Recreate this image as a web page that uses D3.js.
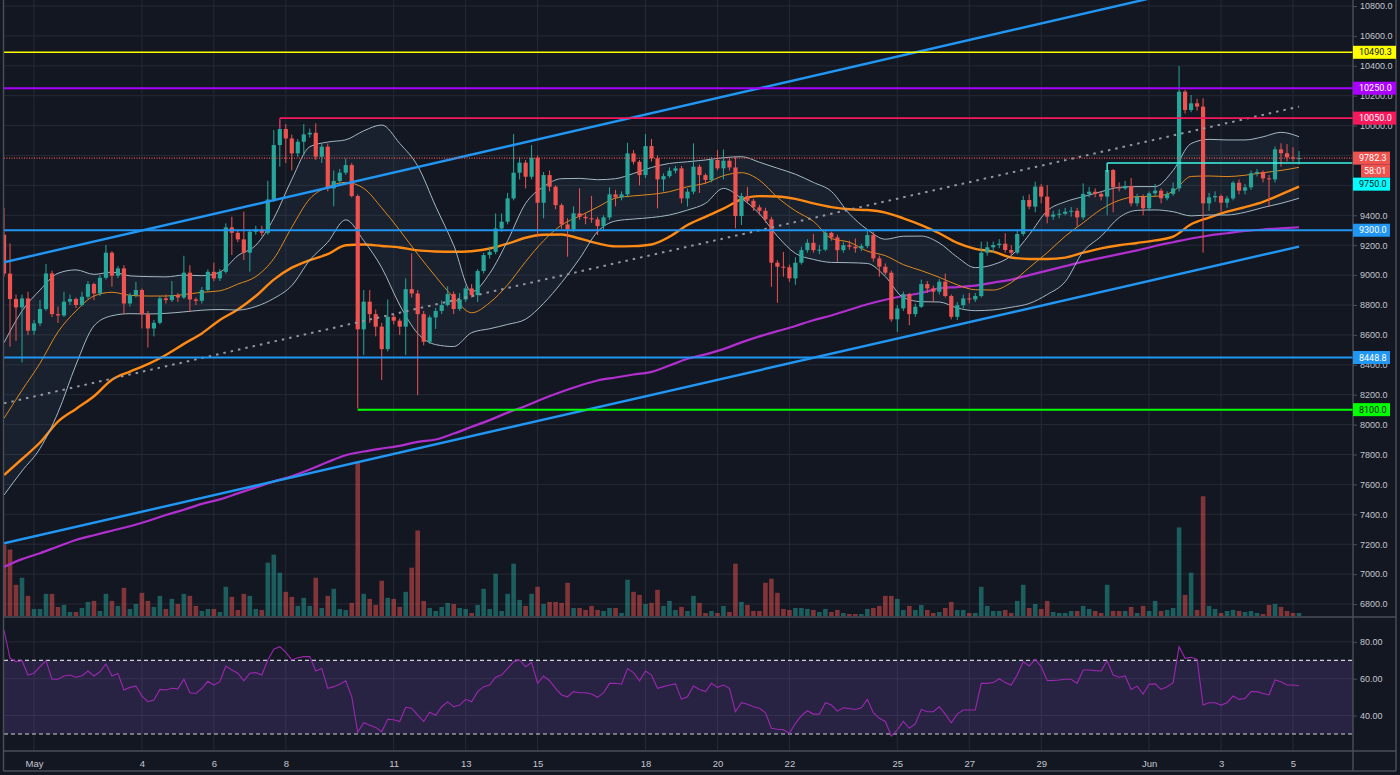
<!DOCTYPE html>
<html>
<head>
<meta charset="utf-8">
<script src="https://cdn.jsdelivr.net/npm/d3@7"></script>
<style>
  html, body { margin: 0; padding: 0; background: #131722; }
  svg { display: block; font-family: Roboto, "Noto Sans", sans-serif; }
</style>
</head>
<body>
<svg id="chart" width="1400" height="775"></svg>
<script>
// BTC/USD 4h candles, first one opens 2020-04-30 04:00 UTC
const firstCandle = Date.UTC(2020, 3, 30, 4);
const firstOpen = 9270;

const closes = [
  9010, 8840, 8784, 8844, 8628,
  8677, 8773, 9011, 8739, 8730, 8822,
  8840, 8800, 8855, 8940, 8877, 8982,
  9150, 8996, 9045, 8810, 8866, 8900,
  8739, 8643, 8681, 8844, 8833, 8866,
  8850, 9016, 8837, 8828, 8900, 9022,
  8978, 9022, 9319, 9283, 9239, 9150,
  9290, 9306, 9283, 9506, 9870, 9977,
  9914, 9814, 9892, 9941, 9952, 9792,
  9859, 9580, 9629, 9685, 9736, 9529,
  8637, 8822, 8739, 8655, 8505, 8721,
  8695, 8655, 8906, 8877, 8739, 8554,
  8717, 8760, 8800, 8873, 8773, 8837,
  8911, 8866, 9027, 9134, 9156, 9312,
  9357, 9513, 9685, 9752, 9658, 9785,
  9484, 9669, 9591, 9468, 9339, 9306,
  9413, 9390, 9380, 9373, 9328, 9386,
  9540, 9520, 9540, 9814, 9758, 9669,
  9863, 9781, 9640, 9662, 9698, 9714,
  9513, 9558, 9725, 9669, 9636, 9770,
  9714, 9765, 9720, 9395, 9529, 9497,
  9453, 9430, 9373, 9083, 9056, 9052,
  8978, 9083, 9167, 9216, 9167, 9170,
  9283, 9252, 9167, 9200, 9190, 9179,
  9194, 9268, 9112, 9056, 9016, 8704,
  8777, 8873, 8739, 8788, 8940, 8911,
  8889, 8956, 8860, 8721, 8799, 8844,
  8837, 8860, 9150, 9186, 9201, 9210,
  9168, 9150, 9275, 9502, 9458, 9592,
  9525, 9391, 9405, 9410, 9424, 9430,
  9386, 9543, 9558, 9543, 9525, 9703,
  9587, 9580, 9596, 9480, 9525, 9447,
  9547, 9565, 9514, 9543, 9580, 10227,
  10104, 10149, 10127, 9480, 9520, 9529,
  9484, 9513, 9618, 9565, 9587, 9681,
  9690, 9647, 9640, 9841, 9815, 9788,
  9780, 9782.3
];

const highs = [
  9450, 9212, 8870, 8870, 8889,
  8700, 8833, 9074, 9030, 8790, 8888,
  8870, 8850, 8889, 8960, 8950, 9000,
  9201, 9160, 9060, 9066, 8880, 8955,
  8910, 8760, 8700, 8860, 8870, 8960,
  8880, 9129, 9066, 8850, 8920, 9038,
  9083, 9040, 9346, 9390, 9300, 9424,
  9300, 9330, 9330, 9631, 9970, 10041,
  10010, 9940, 9910, 10010, 9980, 10015,
  9880, 9880, 9700, 9710, 9780, 9750,
  9540, 8900, 8900, 8770, 8680, 8837,
  8740, 8710, 8978, 9145, 8900, 8760,
  8730, 8780, 8830, 8925, 8890, 8880,
  8930, 8940, 9040, 9150, 9190, 9413,
  9413, 9550, 9943, 9790, 9770, 9870,
  9800, 9690, 9700, 9600, 9480, 9380,
  9460, 9580, 9410, 9530, 9390, 9400,
  9587, 9570, 9560, 9885, 9836, 9770,
  9943, 9910, 9800, 9680, 9720, 9730,
  9730, 9580, 9881, 9740, 9680, 9790,
  9836, 9840, 9780, 9790, 9550, 9590,
  9510, 9470, 9450, 9390, 9100, 9155,
  9070, 9120, 9190, 9240, 9275, 9200,
  9300, 9290, 9270, 9220, 9230, 9245,
  9210, 9301, 9290, 9130, 9078, 9030,
  8800, 8890, 8880, 8810, 8970, 8960,
  8930, 8975, 9011, 8870, 8820, 8870,
  8880, 8880, 9224, 9224, 9224, 9240,
  9280, 9200, 9300, 9530, 9540, 9625,
  9610, 9603, 9430, 9440, 9450, 9455,
  9450, 9614, 9590, 9580, 9560, 9750,
  9710, 9620, 9630, 9650, 9545, 9540,
  9560, 9610, 9580, 9560, 9620, 10399,
  10240, 10205, 10180, 10183, 9550, 9560,
  9540, 9530, 9630, 9640, 9610, 9700,
  9710, 9700, 9670, 9860, 9882, 9876,
  9855, 9830
];

const lows = [
  8990, 8521, 8560, 8416, 8599,
  8600, 8660, 8760, 8720, 8680, 8720,
  8800, 8780, 8790, 8840, 8832, 8860,
  8970, 8922, 8980, 8739, 8790, 8850,
  8643, 8516, 8590, 8670, 8810, 8820,
  8820, 8840, 8755, 8800, 8810, 8890,
  8960, 8960, 9010, 9134, 9220, 9100,
  9023, 9270, 9260, 9270, 9490, 9725,
  9750, 9700, 9790, 9800, 9920, 9770,
  9750, 9560, 9460, 9600, 9670, 9520,
  8108, 8465, 8680, 8590, 8298, 8490,
  8670, 8600, 8465, 8850, 8197, 8530,
  8540, 8640, 8740, 8790, 8740, 8760,
  8820, 8850, 8820, 9010, 9110, 9140,
  9290, 9340, 9500, 9640, 9580, 9640,
  9257, 9380, 9560, 9440, 9310, 9123,
  9290, 9370, 9340, 9350, 9268, 9300,
  9370, 9460, 9500, 9520, 9740, 9600,
  9650, 9760, 9446, 9560, 9650, 9680,
  9480, 9458, 9540, 9550, 9610, 9620,
  9700, 9640, 9700, 9313, 9335, 9480,
  9430, 9400, 9350, 8922, 8815, 8990,
  8955, 8935, 9070, 9150, 9150, 9140,
  9160, 9230, 9090, 9150, 9170, 9150,
  9160, 9180, 9090, 8990, 9000, 8688,
  8620, 8760, 8665, 8720, 8780, 8880,
  8820, 8870, 8850, 8704, 8700, 8780,
  8810, 8820, 8850, 9130, 9150, 9180,
  9150, 9120, 9140, 9260, 9440, 9420,
  9480, 9346, 9370, 9380, 9400, 9390,
  9325, 9370, 9520, 9520, 9500, 9400,
  9420, 9560, 9570, 9460, 9460, 9400,
  9430, 9530, 9480, 9500, 9530, 9560,
  10080, 10090, 10100, 9150, 9430, 9490,
  9424, 9450, 9500, 9540, 9540, 9570,
  9660, 9620, 9458, 9620, 9725, 9760,
  9760, 9740
];

const volumes = [
  71, 66, 31, 38, 20,
  7, 7, 22, 22, 9, 11,
  4, 4, 8, 14, 15, 5,
  22, 15, 10, 28, 7, 12,
  23, 15, 9, 20, 7, 17,
  12, 22, 20, 10, 5, 7,
  7, 4, 29, 19, 6, 22,
  20, 7, 6, 53, 61, 43,
  24, 19, 10, 18, 10, 38,
  8, 20, 27, 7, 6, 13,
  152, 22, 17, 11, 35, 18,
  17, 9, 24, 48, 85, 15,
  8, 5, 9, 13, 12, 8,
  7, 3, 11, 27, 7, 42,
  5, 22, 52, 16, 10, 22,
  29, 12, 14, 14, 13, 33,
  8, 8, 6, 10, 6, 5,
  8, 8, 3, 36, 24, 21,
  12, 13, 26, 10, 15, 6,
  9, 5, 20, 13, 3, 5,
  3, 10, 4, 52, 14, 11,
  5, 5, 33, 37, 23, 7,
  6, 8, 8, 7, 6, 4,
  7, 4, 6, 3, 2, 2,
  2, 7, 8, 10, 20, 20,
  17, 6, 10, 6, 11, 6,
  3, 4, 8, 14, 6, 6,
  3, 3, 29, 10, 5, 5,
  6, 3, 15, 31, 8, 12,
  7, 15, 4, 3, 3, 5,
  5, 10, 7, 5, 3, 31,
  5, 5, 5, 9, 3, 10,
  5, 15, 5, 6, 8, 88,
  21, 43, 6, 119, 10, 7,
  3, 5, 6, 5, 4, 5,
  3, 2, 11, 12, 9, 5,
  3, 3
];

const rsi = [
  86.4, 71.1, 69.2, 69.8, 62,
  63, 66.5, 69.8, 59.7, 59.7, 61.5,
  62, 60.8, 61.6, 64.2, 61.5, 63.8,
  68, 61.5, 62.9, 53.9, 55.3, 56,
  50.6, 47.5, 48.4, 54.2, 53.9, 54.8,
  54.5, 59.7, 52.4, 52, 54.8, 58.6,
  56.6, 58.4, 66.9, 64.7, 63, 58.9,
  63, 63.3, 62, 70.2, 76, 77.4,
  74.3, 70.2, 71.4, 72, 72, 64.2,
  65.6, 54.8, 55.7, 57, 58.9, 50.2,
  30.9, 36.1, 34.8, 33.6, 31.2, 38,
  37.7, 36.8, 44.5, 44, 40.2, 36.8,
  41.8, 40.2, 44.8, 47.4, 44.8, 45.7,
  48.8, 47.5, 53, 55.7, 56.6, 60.8,
  62, 65.6, 69.2, 70.2, 66.5, 68.8,
  57.5, 61.5, 58.9, 54.8, 51.2, 50.2,
  53, 52.4, 52.4, 51.7, 49.9, 52.4,
  57.5, 57.5, 57, 65.5, 63.3, 58.9,
  64.2, 62, 54.8, 55.7, 56.6, 57.2,
  48.8, 50.2, 56.1, 54.2, 53, 57.5,
  55.3, 56.6, 54.8, 42.1, 47, 46.1,
  44.8, 44, 41.6, 33.1, 32.6, 32.3,
  30.4, 35.8, 39.9, 42.6, 40.8, 40.8,
  47, 45.7, 42.4, 44.2, 43.8, 43.3,
  44.2, 48.8, 41.6, 38.5, 36.8, 28.9,
  32.3, 36.8, 33.1, 35.5, 43.3, 42.1,
  42.1, 44.8, 40.8, 36.1, 40.8, 43,
  43, 43, 57.5, 57.5, 57.9, 60,
  57.9, 56.6, 62, 69.2, 66.9, 70.5,
  66.5, 59, 59, 59.3, 59.7, 59.7,
  57.5, 64.7, 64.7, 64.4, 64.2, 69.8,
  62, 60.8, 61.5, 54.2, 56, 51.7,
  57, 57.2, 54.2, 55.7, 57.9, 77.4,
  71.1, 71.6, 70.5, 45.7, 47, 47,
  45.7, 47, 50.6, 48.8, 49.3, 53,
  53, 52, 51.2, 59.3, 58.4, 56.6,
  56.6, 56.2
];

// indicator lines, read every 3rd candle
const bbUpper = [
  8548, 8760, 8900, 9012, 9035, 9005, 9020, 8995, 8990, 8988,
  9000, 8996, 9020, 9130, 9200, 9380, 9640, 9859, 9890, 9905,
  9965, 10004, 9881, 9730, 9460, 9200, 8889, 9011, 9230, 9480,
  9591, 9645, 9647, 9638, 9645, 9680, 9720, 9747, 9758, 9770,
  9785, 9792, 9755, 9715, 9675, 9620, 9560, 9410, 9305, 9240,
  9260, 9261, 9215, 9120, 9050, 9070, 9130, 9270, 9430, 9490,
  9525, 9558, 9587, 9592, 9592, 9700, 9880, 9908, 9904, 9904,
  9925, 9955, 9926
];
const bbBasis = [
  8042, 8230, 8410, 8620, 8760, 8860, 8885, 8865, 8860, 8860,
  8870, 8885, 8895, 8940, 8990, 9110, 9320, 9510, 9590, 9620,
  9580, 9450, 9300, 9140, 8990, 8850, 8748, 8815, 8935, 9090,
  9230, 9335, 9395, 9455, 9515, 9530, 9540, 9558, 9591, 9615,
  9665, 9685, 9635, 9520, 9430, 9360, 9245, 9220, 9160, 9130,
  9070, 9030, 8985, 8935, 8902, 8900, 8950, 9050, 9150, 9260,
  9350, 9440, 9500, 9525, 9527, 9560, 9660, 9663, 9659, 9668,
  9685, 9700, 9721
];
const bbLower = [
  7529, 7690, 7840, 8080, 8400, 8660, 8728, 8742, 8740, 8744,
  8754, 8765, 8770, 8766, 8790, 8844, 8930, 9100, 9220, 9370,
  9230, 9050, 8800, 8610, 8535, 8522, 8615, 8641, 8670, 8705,
  8811, 8950, 9110, 9290, 9362, 9375, 9385, 9402, 9435, 9480,
  9580, 9513, 9410, 9260, 9145, 9105, 9085, 9083, 9078, 8990,
  8850, 8822, 8820, 8780, 8762, 8767, 8785, 8810, 8870, 8956,
  9157, 9260, 9385, 9433, 9436, 9424, 9396, 9402, 9402, 9420,
  9452, 9480, 9514
];
const maMid = [
  7663, 7770, 7880, 8020, 8105, 8190, 8300, 8355, 8405, 8466,
  8540, 8610, 8700, 8770, 8860, 8970, 9050, 9100, 9140, 9200,
  9205, 9195, 9185, 9165, 9158, 9156, 9160, 9178, 9210, 9250,
  9270, 9272, 9245, 9212, 9192, 9194, 9205, 9257, 9335, 9390,
  9445, 9506, 9528, 9526, 9510, 9480, 9455, 9440, 9435, 9418,
  9380, 9335, 9280, 9215, 9175, 9157, 9118, 9108, 9108, 9117,
  9150, 9179, 9200, 9215, 9232, 9257, 9340, 9385, 9424, 9455,
  9490, 9540, 9592
];
const maLong = [
  7048, 7100, 7140, 7185, 7228, 7260, 7290, 7320, 7355, 7395,
  7430, 7470, 7500, 7540, 7580, 7620, 7655, 7700, 7750, 7795,
  7820, 7840, 7858, 7885, 7900, 7940, 7985, 8030, 8080, 8125,
  8175, 8220, 8260, 8295, 8315, 8335, 8353, 8395, 8440, 8470,
  8505, 8550, 8590, 8625, 8660, 8698, 8730, 8768, 8805, 8835,
  8860, 8880, 8912, 8920, 8930, 8950, 8970, 9000, 9030, 9060,
  9090, 9115, 9140, 9165, 9195, 9220, 9245, 9265, 9280, 9295,
  9305, 9312, 9320
];

// horizontal levels; start = candle index where the drawing begins (-1: whole chart)
const levelPrices = [10490.3, 10250, 10050, 9750, 9300, 8448.8, 8100];
const levelStarts = [-1, -1, 46, 184, -1, -1, 59];
const lastPrice = 9782.3;
const countdown = '58:01';

// trend lines: [startCandle, startPrice, endCandle, endPrice]
const channelTop = [0, 9086, 193, 10868];
const channelMid = [0, 8142, 216, 10127];
const channelBottom = [0, 7206, 216, 9191];

const dateTicks = [
  [2020, 4, 1], [2020, 4, 4], [2020, 4, 6], [2020, 4, 8], [2020, 4, 11], [2020, 4, 13],
  [2020, 4, 15], [2020, 4, 18], [2020, 4, 20], [2020, 4, 22], [2020, 4, 25], [2020, 4, 27],
  [2020, 4, 29], [2020, 5, 1], [2020, 5, 3], [2020, 5, 5]
];
const dateLabels = ['May', '4', '6', '8', '11', '13', '15', '18', '20', '22', '25', '27', '29', 'Jun', '3', '5'];
const rsiTicks = [80, 60, 40];

const HOUR = 3600 * 1000;
const candleTime = i => new Date(firstCandle + i * 4 * HOUR);

const candles = closes.map((c, i) => ({
  t: candleTime(i),
  o: i === 0 ? firstOpen : closes[i - 1],
  h: highs[i], l: lows[i], c: c, v: volumes[i], r: rsi[i]
}));

const W = 1400, H = 775;
const plotL = 4, plotR = 1353, frameR = 1396;
const priceBot = 617, rsiTop = 618, rsiBot = 751, axisBot = 771;

const UP = '#26a69a', DOWN = '#ef5350';
const gridColor = '#262a35', frameColor = '#4b4f5a', textColor = '#c3c6ce';

const svg = d3.select('#chart');

const x = d3.scaleUtc()
  .domain([new Date(Date.UTC(2020, 4, 1)), new Date(Date.UTC(2020, 5, 5))])
  .range([34, 1293]);
const y = d3.scaleLinear().domain([6800, 10800]).range([604, 6]);
const yVol = d3.scaleLinear().domain([0, d3.max(volumes)]).range([616, 463]);
const yRsi = d3.scaleLinear().domain([30, 70]).range([734, 660.3]);

const step = x(candleTime(1)) - x(candleTime(0));
const bodyW = step * 0.7;

svg.append('rect').attr('width', W).attr('height', H).attr('fill', '#131722');

const defs = svg.append('defs');
defs.append('clipPath').attr('id', 'clipPrice')
  .append('rect').attr('x', plotL).attr('y', 0).attr('width', plotR - plotL).attr('height', priceBot);
defs.append('clipPath').attr('id', 'clipRsi')
  .append('rect').attr('x', plotL).attr('y', rsiTop).attr('width', plotR - plotL).attr('height', rsiBot - rsiTop);

// grid
const grid = svg.append('g');
const priceTicks = d3.range(6800, 10801, 200);
grid.selectAll('.hg').data(priceTicks).join('line')
  .attr('x1', plotL).attr('x2', plotR)
  .attr('y1', d => y(d)).attr('y2', d => y(d))
  .attr('stroke', gridColor);
grid.selectAll('.rg').data(rsiTicks).join('line')
  .attr('x1', plotL).attr('x2', plotR)
  .attr('y1', d => yRsi(d)).attr('y2', d => yRsi(d))
  .attr('stroke', gridColor);
const tickDates = dateTicks.map(d => new Date(Date.UTC(d[0], d[1], d[2])));
grid.selectAll('.vg').data(tickDates).join('line')
  .attr('x1', d => x(d)).attr('x2', d => x(d))
  .attr('y1', 0).attr('y2', rsiBot)
  .attr('stroke', gridColor);

const pane = svg.append('g').attr('clip-path', 'url(#clipPrice)');

// bollinger fill
const sampleTime = k => candleTime(k * 3);
const bandArea = d3.area()
  .x((d, k) => x(sampleTime(k)))
  .y0((d, k) => y(bbLower[k]))
  .y1(d => y(d))
  .curve(d3.curveMonotoneX);
pane.append('path').datum(bbUpper).attr('d', bandArea)
  .attr('fill', 'rgba(110, 160, 210, 0.07)');

// volume
pane.append('g').selectAll('rect').data(candles).join('rect')
  .attr('x', d => x(d.t) - bodyW / 2 - 0.2)
  .attr('width', bodyW + 0.4)
  .attr('y', d => yVol(d.v))
  .attr('height', d => 616 - yVol(d.v))
  .attr('fill', d => d.c >= d.o ? 'rgba(38,166,154,0.5)' : 'rgba(239,83,80,0.5)');

// indicator lines
const sampleLine = d3.line()
  .x((d, k) => x(sampleTime(k)))
  .y(d => y(d))
  .curve(d3.curveMonotoneX);
const addLine = (vals, color, width) => pane.append('path').datum(vals)
  .attr('d', sampleLine).attr('fill', 'none')
  .attr('stroke', color).attr('stroke-width', width);
addLine(maLong, '#b12fcf', 2.2);
addLine(maMid, '#ff8a14', 2.4);
addLine(bbUpper, '#a3b8c4', 1);
addLine(bbLower, '#a3b8c4', 1);
addLine(bbBasis, '#e08a1e', 1);

// candles
const cg = pane.append('g').selectAll('g').data(candles).join('g');
cg.append('line')
  .attr('x1', d => x(d.t)).attr('x2', d => x(d.t))
  .attr('y1', d => y(d.h)).attr('y2', d => y(d.l))
  .attr('stroke', d => d.c >= d.o ? UP : DOWN);
cg.append('rect')
  .attr('x', d => x(d.t) - bodyW / 2)
  .attr('width', bodyW)
  .attr('y', d => y(Math.max(d.o, d.c)))
  .attr('height', d => Math.max(1, Math.abs(y(d.o) - y(d.c))))
  .attr('fill', d => d.c >= d.o ? UP : DOWN);

// drawings
const trend = (t, color, width, dash) => pane.append('line')
  .attr('x1', x(candleTime(t[0]))).attr('y1', y(t[1]))
  .attr('x2', x(candleTime(t[2]))).attr('y2', y(t[3]))
  .attr('stroke', color).attr('stroke-width', width)
  .attr('stroke-dasharray', dash || null);
trend(channelTop, '#2196f3', 2.4);
trend(channelBottom, '#2196f3', 2.4);
trend(channelMid, '#9598a1', 2, '2.5 5');

const levelColors = ['#ffff00', '#aa00ff', '#f7185c', '#3ff5e6', '#2196f3', '#2196f3', '#00ff00'];
const levelWidths = [1.6, 2, 1.6, 1.6, 2, 2, 2];
levelPrices.forEach((p, k) => {
  const x0 = levelStarts[k] < 0 ? plotL : x(candleTime(levelStarts[k]));
  pane.append('line')
    .attr('x1', x0).attr('x2', plotR)
    .attr('y1', y(p)).attr('y2', y(p))
    .attr('stroke', levelColors[k]).attr('stroke-width', levelWidths[k]);
});
// little drops at the start of two of the levels
[[2, 9980], [3, 9690]].forEach(([k, p2]) => {
  const x0 = x(candleTime(levelStarts[k]));
  pane.append('line')
    .attr('x1', x0).attr('x2', x0)
    .attr('y1', y(levelPrices[k])).attr('y2', y(p2))
    .attr('stroke', levelColors[k]).attr('stroke-width', 1.2);
});

pane.append('line')
  .attr('x1', plotL).attr('x2', plotR)
  .attr('y1', y(lastPrice)).attr('y2', y(lastPrice))
  .attr('stroke', '#ef5350').attr('stroke-width', 1.2).attr('stroke-dasharray', '1 1.5');

// RSI pane
const rp = svg.append('g').attr('clip-path', 'url(#clipRsi)');
rp.append('rect')
  .attr('x', plotL).attr('width', plotR - plotL)
  .attr('y', yRsi(70)).attr('height', yRsi(30) - yRsi(70))
  .attr('fill', 'rgba(126, 87, 194, 0.2)');
[70, 30].forEach(v => rp.append('line')
  .attr('x1', plotL).attr('x2', plotR)
  .attr('y1', yRsi(v)).attr('y2', yRsi(v))
  .attr('stroke', '#d0d2d8').attr('stroke-width', 1.2).attr('stroke-dasharray', '4 3'));
rp.append('path').datum(candles)
  .attr('d', d3.line().x(d => x(d.t)).y(d => yRsi(d.r)))
  .attr('fill', 'none').attr('stroke', '#9c27b0').attr('stroke-width', 1.1);

// frame
const frame = svg.append('g').attr('stroke', frameColor).attr('stroke-width', 1.4);
frame.append('line').attr('x1', 3.5).attr('x2', 3.5).attr('y1', 0).attr('y2', axisBot);
frame.append('line').attr('x1', plotR).attr('x2', plotR).attr('y1', 0).attr('y2', axisBot);
frame.append('line').attr('x1', frameR).attr('x2', frameR).attr('y1', 0).attr('y2', axisBot);
frame.append('line').attr('x1', 3.5).attr('x2', frameR).attr('y1', priceBot).attr('y2', priceBot);
frame.append('line').attr('x1', 3.5).attr('x2', frameR).attr('y1', rsiBot).attr('y2', rsiBot);
frame.append('line').attr('x1', 3.5).attr('x2', frameR).attr('y1', axisBot).attr('y2', axisBot);

// axes
const styleAxis = g => {
  g.select('.domain').remove();
  g.selectAll('line').attr('stroke', frameColor);
  g.selectAll('text').attr('fill', textColor).style('font-size', '9px');
};
svg.append('g').attr('transform', `translate(${plotR},0)`)
  .call(d3.axisRight(y).tickValues(priceTicks).tickSize(4).tickPadding(3).tickFormat(d => d.toFixed(1)))
  .call(styleAxis);
svg.append('g').attr('transform', `translate(${plotR},0)`)
  .call(d3.axisRight(yRsi).tickValues(rsiTicks).tickSize(4).tickPadding(3).tickFormat(d => d.toFixed(2)))
  .call(styleAxis);
svg.append('g').attr('transform', `translate(0,${rsiBot})`)
  .call(d3.axisBottom(x).tickValues(tickDates).tickSize(0).tickPadding(9)
    .tickFormat((d, k) => dateLabels[k]))
  .call(styleAxis)
  .call(g => g.selectAll('text').style('font-size', '9.5px'));

// price tags on the right scale
const tagH = 13;
const tags = [
  { p: 10490.3, text: '10490.3', bg: '#ffff00', fg: '#131722', w: 43 },
  { p: 10250, text: '10250.0', bg: '#aa00ff', fg: '#ffffff', w: 43 },
  { p: 10050, text: '10050.0', bg: '#f7185c', fg: '#ffffff', w: 43 },
  { p: lastPrice, text: lastPrice.toFixed(1), bg: '#ef5350', fg: '#ffffff', w: 37 },
  { p: null, text: countdown, bg: '#ef5350', fg: '#ffffff', w: 29, dx: 8 },
  { p: 9750, text: '9750.0', bg: '#00ffff', fg: '#131722', w: 37 },
  { p: 9300, text: '9300.0', bg: '#2196f3', fg: '#ffffff', w: 37 },
  { p: 8448.8, text: '8448.8', bg: '#2196f3', fg: '#ffffff', w: 37 },
  { p: 8100, text: '8100.0', bg: '#00ff00', fg: '#131722', w: 37 }
];
let prevBottom = -Infinity;
tags.forEach(tg => {
  let top = tg.p === null ? prevBottom : y(tg.p) - tagH / 2;
  if (top < prevBottom) top = prevBottom;
  prevBottom = top + tagH;
  const g = svg.append('g').attr('transform', `translate(${plotR + (tg.dx || 0)},${top})`);
  g.append('rect').attr('width', tg.w).attr('height', tagH).attr('fill', tg.bg);
  g.append('text').attr('x', tg.dx ? 3 : 6).attr('y', tagH / 2).attr('dy', '0.35em')
    .attr('fill', tg.fg).style('font-size', '9px').text(tg.text);
});
</script>
</body>
</html>
